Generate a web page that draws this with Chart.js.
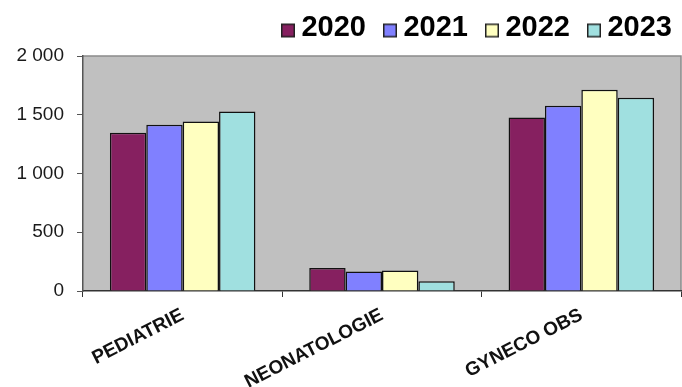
<!DOCTYPE html>
<html>
<head>
<meta charset="utf-8">
<script src="https://cdn.jsdelivr.net/npm/chart.js@4/dist/chart.umd.min.js"></script>
<style>
  html, body { margin: 0; padding: 0; background: #ffffff; }
  #wrap { width: 682px; height: 387px; }
</style>
</head>
<body>
<div id="wrap"><canvas id="chart" width="682" height="387"></canvas></div>
<script>
// services et années
const services = ['PEDIATRIE', 'NEONATOLOGIE', 'GYNECO OBS'];
const annees = ['2020', '2021', '2022', '2023'];

const val2020 = [1347, 195, 1477];
const val2021 = [1415, 167, 1576];
const val2022 = [1443, 175, 1712];
const val2023 = [1528, 82, 1644];

const couleurs = ['#862060', '#8080ff', '#ffffc0', '#a0e0e0'];
const yTicks = [0, 500, 1000, 1500, 2000];

// petit carré de légende, décalé vers le texte
function carre(couleur) {
  const c = document.createElement('canvas');
  c.width = 30;
  c.height = 24;
  const g = c.getContext('2d');
  g.fillStyle = couleur;
  g.fillRect(16, 8, 14, 14);
  g.strokeStyle = '#222222';
  g.lineWidth = 1.5;
  g.strokeRect(16.75, 8.75, 12.5, 12.5);
  return c;
}

// fond gris de la zone de tracé + bordures haut/droite
const fondGris = {
  id: 'fondGris',
  afterInit(chart) {
    // un peu plus d'espace sous la légende
    const lg = chart.legend;
    const fit = lg.fit.bind(lg);
    lg.fit = function () { fit(); this.height += 4; };
  },
  beforeDraw(chart) {
    const { ctx, chartArea: a } = chart;
    ctx.save();
    ctx.fillStyle = '#c0c0c0';
    ctx.fillRect(a.left, a.top, a.right - a.left, a.bottom - a.top);
    ctx.strokeStyle = '#8a8a8a';
    ctx.lineWidth = 1.5;
    ctx.beginPath();
    ctx.moveTo(a.left, a.top);
    ctx.lineTo(a.right, a.top);
    ctx.lineTo(a.right, a.bottom);
    ctx.stroke();
    ctx.restore();
  }
};

const series = [val2020, val2021, val2022, val2023];

new Chart(document.getElementById('chart'), {
  type: 'bar',
  data: {
    labels: services,
    datasets: annees.map((an, i) => ({
      label: an,
      data: series[i],
      backgroundColor: couleurs[i],
      borderColor: '#111111',
      borderWidth: 1.5,
      categoryPercentage: 0.73,
      barPercentage: 1.0
    }))
  },
  options: {
    responsive: false,
    animation: false,
    layout: { padding: { top: 4, right: 1, left: 0, bottom: 0 } },
    plugins: {
      tooltip: { enabled: false },
      legend: {
        position: 'top',
        align: 'end',
        labels: {
          boxWidth: 14,
          boxHeight: 14,
          padding: 9,
          usePointStyle: true,
          color: '#111111',
          font: { family: "'Liberation Sans', Arial, sans-serif", size: 29, weight: 'bold' },
          generateLabels(chart) {
            return chart.data.datasets.map((ds, i) => ({
              text: ds.label,
              fillStyle: ds.backgroundColor,
              strokeStyle: '#222222',
              lineWidth: 0,
              pointStyle: carre(ds.backgroundColor),
              datasetIndex: i
            }));
          }
        }
      }
    },
    scales: {
      x: {
        grid: {
          offset: true,
          drawOnChartArea: false,
          drawTicks: true,
          tickLength: 6,
          color: '#333333'
        },
        border: { color: '#333333', width: 1.5 },
        ticks: {
          minRotation: 27,
          maxRotation: 27,
          padding: 7,
          color: '#111111',
          font: { family: "'Liberation Sans', Arial, sans-serif", size: 19, weight: 'bold' }
        },
        afterFit(scale) { scale.height = 96; }
      },
      y: {
        min: 0,
        max: 2000,
        afterBuildTicks(scale) { scale.ticks = yTicks.map(v => ({ value: v })); },
        grid: {
          drawOnChartArea: false,
          drawTicks: true,
          tickLength: 6,
          color: '#555555'
        },
        border: { color: '#555555', width: 1.5 },
        ticks: {
          padding: 13,
          color: '#1a1a1a',
          font: { family: "'Liberation Sans', Arial, sans-serif", size: 19 },
          callback(v) { return String(v).replace(/\B(?=(\d{3})+(?!\d))/g, ' '); }
        },
        afterFit(scale) { scale.width = 83; }
      }
    }
  },
  plugins: [fondGris]
});
</script>
</body>
</html>
